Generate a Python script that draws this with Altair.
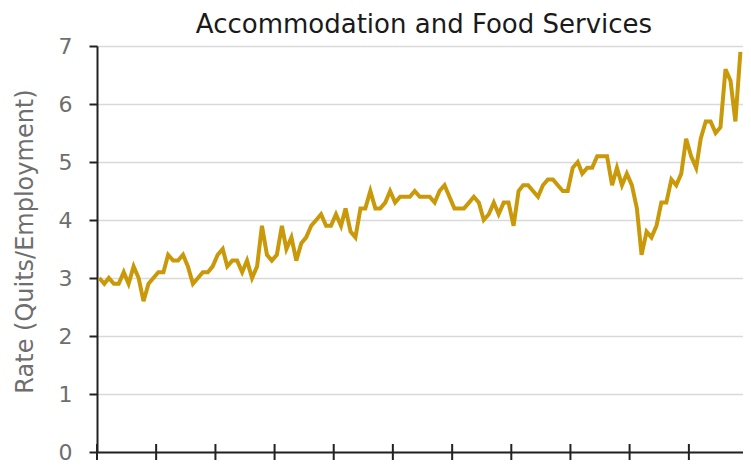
import altair as alt
import pandas as pd

# ---- data ----
first_month = "2011-01-01"
quits_rate = [
    3.0, 2.9, 3.0, 2.9, 2.9, 3.1, 2.9, 3.2, 3.0, 2.6,
    2.9, 3.0, 3.1, 3.1, 3.4, 3.3, 3.3, 3.4, 3.2, 2.9,
    3.0, 3.1, 3.1, 3.2, 3.4, 3.5, 3.2, 3.3, 3.3, 3.1,
    3.3, 3.0, 3.2, 3.9, 3.4, 3.3, 3.4, 3.9, 3.5, 3.7,
    3.3, 3.6, 3.7, 3.9, 4.0, 4.1, 3.9, 3.9, 4.1, 3.9,
    4.2, 3.8, 3.7, 4.2, 4.2, 4.5, 4.2, 4.2, 4.3, 4.5,
    4.3, 4.4, 4.4, 4.4, 4.5, 4.4, 4.4, 4.4, 4.3, 4.5,
    4.6, 4.4, 4.2, 4.2, 4.2, 4.3, 4.4, 4.3, 4.0, 4.1,
    4.3, 4.1, 4.3, 4.3, 3.9, 4.5, 4.6, 4.6, 4.5, 4.4,
    4.6, 4.7, 4.7, 4.6, 4.5, 4.5, 4.9, 5.0, 4.8, 4.9,
    4.9, 5.1, 5.1, 5.1, 4.6, 4.9, 4.6, 4.8, 4.6, 4.2,
    3.4, 3.8, 3.7, 3.9, 4.3, 4.3, 4.7, 4.6, 4.8, 5.4,
    5.1, 4.9, 5.4, 5.7, 5.7, 5.5, 5.6, 6.6, 6.4, 5.7,
    6.9,
]
tick_years = list(range(2011, 2022))
y_ticks = [0, 1, 2, 3, 4, 5, 6, 7]
title_text = "Accommodation and Food Services"
y_title = "Rate (Quits/Employment)"

months = pd.date_range(first_month, periods=len(quits_rate), freq="MS") + pd.Timedelta(days=14)
df = pd.DataFrame({"date": months.strftime("%Y-%m-%d"), "rate": quits_rate})
tick_df = pd.DataFrame({"date": [f"{y}-01-01" for y in tick_years]})

LINE_COLOR = "#C9990A"
AXIS_COLOR = "#222222"
TEXT_GRAY = "#6e6e6e"
FONT = "DejaVu Sans"

PLOT_W = 646
PLOT_H = 406

x_scale = alt.Scale(
    domain=[alt.DateTime(year=2011, month=1, date=1, utc=True),
            alt.DateTime(year=2021, month=12, date=1, utc=True)]
)

line = alt.Chart(df).mark_line(color=LINE_COLOR, strokeWidth=4).encode(
    x=alt.X("date:T", scale=x_scale,
            axis=alt.Axis(labels=False, ticks=False, grid=False, title=None,
                          domainColor=AXIS_COLOR, domainWidth=2)),
    y=alt.Y("rate:Q", scale=alt.Scale(domain=[0, 7], nice=False, zero=True),
            axis=alt.Axis(values=y_ticks, title=y_title, format="d",
                          grid=True, gridColor="#d9d9d9", gridWidth=1.5,
                          domainColor=AXIS_COLOR, domainWidth=2,
                          tickColor=AXIS_COLOR, tickWidth=2, tickSize=8,
                          labelFontSize=22, labelColor=TEXT_GRAY,
                          labelFont=FONT, labelPadding=17,
                          labelFlush=False,
                          titleFontSize=24, titleColor=TEXT_GRAY,
                          titleFont=FONT, titleFontWeight="normal",
                          titlePadding=21, titleY=195)),
)

xticks = alt.Chart(tick_df).mark_rule(color=AXIS_COLOR, strokeWidth=2).encode(
    x=alt.X("date:T", scale=x_scale),
    y=alt.value(PLOT_H - 8),
    y2=alt.value(PLOT_H + 8),
)

chart = alt.layer(line, xticks).properties(
    width=PLOT_W,
    height=PLOT_H,
    title=alt.TitleParams(title_text, fontSize=26, font=FONT,
                          color="#1a1a1a", fontWeight="normal", anchor="middle",
                          frame="group", offset=-3, dx=4),
    autosize=alt.AutoSizeParams(type="none"),
    padding={"left": 89, "top": 38, "right": 0, "bottom": 12},
).configure_view(stroke=None).configure(background="white")

chart.save("out.html", embed_options={"renderer": "svg", "actions": False})
